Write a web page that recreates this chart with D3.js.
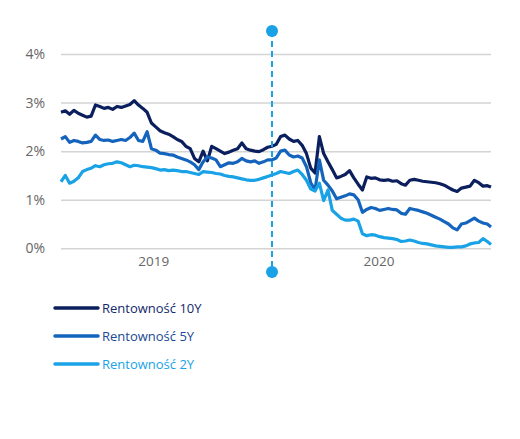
<!DOCTYPE html>
<html><head><meta charset="utf-8">
<script src="https://cdn.jsdelivr.net/npm/d3@7"></script>
<style>
html,body{margin:0;padding:0;background:#fff;}
svg{display:block;font-family:"Open Sans",sans-serif;}
</style></head>
<body><svg id="c" width="520" height="439"></svg>
<script>
const dates = ["2019-02-01","2019-02-08","2019-02-15","2019-02-22","2019-03-01","2019-03-08","2019-03-15","2019-03-22","2019-03-29","2019-04-05",
"2019-04-12","2019-04-19","2019-04-26","2019-05-03","2019-05-10","2019-05-17","2019-05-24","2019-05-31","2019-06-07","2019-06-14",
"2019-06-21","2019-06-28","2019-07-05","2019-07-12","2019-07-19","2019-07-26","2019-08-02","2019-08-09","2019-08-16","2019-08-23",
"2019-08-30","2019-09-06","2019-09-13","2019-09-20","2019-09-27","2019-10-04","2019-10-11","2019-10-18","2019-10-25","2019-11-01",
"2019-11-08","2019-11-15","2019-11-22","2019-11-29","2019-12-06","2019-12-13","2019-12-20","2019-12-27","2020-01-03","2020-01-10",
"2020-01-17","2020-01-24","2020-01-31","2020-02-07","2020-02-14","2020-02-21","2020-02-28","2020-03-06","2020-03-13","2020-03-20",
"2020-03-27","2020-04-03","2020-04-10","2020-04-17","2020-04-24","2020-05-01","2020-05-08","2020-05-15","2020-05-22","2020-05-29",
"2020-06-05","2020-06-12","2020-06-19","2020-06-26","2020-07-03","2020-07-10","2020-07-17","2020-07-24","2020-07-31","2020-08-07",
"2020-08-14","2020-08-21","2020-08-28","2020-09-04","2020-09-11","2020-09-18","2020-09-25","2020-10-02","2020-10-09","2020-10-16",
"2020-10-23","2020-10-30","2020-11-06","2020-11-13","2020-11-20","2020-11-27","2020-12-04","2020-12-11","2020-12-18","2020-12-25","2020-12-31"];

const y10 = [2.80,2.83,2.76,2.84,2.78,2.74,2.70,2.72,2.95,2.92,
2.88,2.90,2.86,2.92,2.90,2.93,2.96,3.04,2.95,2.88,
2.80,2.58,2.50,2.42,2.38,2.35,2.30,2.24,2.20,2.10,
2.05,1.85,1.78,2.00,1.80,2.10,2.05,2.00,1.95,1.98,
2.02,2.05,2.17,2.05,2.02,2.00,1.99,2.03,2.08,2.10,
2.14,2.30,2.33,2.25,2.20,2.22,2.12,1.95,1.65,1.55,
2.30,1.95,1.78,1.62,1.45,1.48,1.52,1.60,1.45,1.32,
1.20,1.47,1.44,1.45,1.41,1.40,1.41,1.38,1.39,1.33,
1.30,1.40,1.42,1.40,1.38,1.37,1.36,1.35,1.33,1.30,
1.25,1.20,1.17,1.24,1.26,1.28,1.40,1.35,1.28,1.29,1.26];

const y5 = [2.25,2.30,2.18,2.22,2.20,2.17,2.18,2.20,2.33,2.24,
2.22,2.23,2.20,2.22,2.24,2.22,2.28,2.37,2.22,2.20,
2.40,2.05,2.02,1.96,1.95,1.93,1.92,1.88,1.85,1.82,
1.78,1.72,1.62,1.78,1.88,1.86,1.82,1.68,1.72,1.76,
1.75,1.78,1.85,1.80,1.78,1.80,1.75,1.78,1.82,1.82,
1.86,2.00,2.02,1.92,1.88,1.90,1.86,1.68,1.35,1.20,
1.82,1.40,1.30,1.18,1.02,1.05,1.08,1.12,1.10,1.00,
0.74,0.80,0.84,0.82,0.78,0.80,0.82,0.80,0.79,0.72,
0.70,0.82,0.80,0.78,0.75,0.72,0.68,0.64,0.60,0.55,
0.50,0.42,0.38,0.50,0.52,0.57,0.62,0.56,0.52,0.50,0.44];

const y2 = [1.37,1.50,1.34,1.38,1.45,1.58,1.62,1.65,1.70,1.68,
1.72,1.74,1.75,1.78,1.76,1.72,1.68,1.71,1.70,1.68,
1.67,1.66,1.64,1.61,1.62,1.60,1.61,1.60,1.58,1.58,
1.56,1.54,1.52,1.58,1.57,1.56,1.54,1.53,1.50,1.48,
1.47,1.45,1.43,1.41,1.40,1.40,1.42,1.45,1.48,1.51,
1.54,1.58,1.56,1.54,1.58,1.61,1.52,1.40,1.22,1.18,
1.34,0.98,1.20,0.78,0.70,0.62,0.58,0.58,0.60,0.56,
0.30,0.26,0.28,0.27,0.24,0.22,0.21,0.20,0.18,0.14,
0.15,0.17,0.15,0.12,0.10,0.09,0.07,0.05,0.04,0.03,
0.02,0.02,0.03,0.03,0.05,0.09,0.11,0.12,0.20,0.14,0.08];

const yTicks = [0,1,2,3,4];
const xTickDates = ["2019-07-01","2020-07-01"];
const xTickLabels = ["2019","2020"];
const markerDate = "2020-01-10";
const seriesNames = ["Rentowność 10Y","Rentowność 5Y","Rentowność 2Y"];
const seriesColors = ["#0b1f5e","#1464bd","#19a2e6"];
const legendTextColors = ["#13296b","#1a4a94","#19a2e6"];
const seriesValues = [y10,y5,y2];

const parse = d3.timeParse("%Y-%m-%d");
const dd = dates.map(parse);
const svg = d3.select("#c");

const x = d3.scaleTime().domain([parse("2019-02-01"), parse("2020-12-31")]).range([61,491]);
const y = d3.scaleLinear().domain([0,4]).range([248.3,54]);

// grid
const yAxis = d3.axisLeft(y).tickValues(yTicks).tickSize(-(491-61)).tickFormat(d=>d+"%").tickPadding(16);
const gy = svg.append("g").attr("transform","translate(61,0)").call(yAxis);
gy.select(".domain").remove();
gy.selectAll(".tick line").attr("stroke","#d4d4d4").attr("stroke-width",1.5);
gy.selectAll(".tick text").attr("fill","#666").attr("font-size",14).attr("font-family","Open Sans");

const xAxis = d3.axisBottom(x).tickValues(xTickDates.map(parse)).tickFormat((d,i)=>xTickLabels[i]).tickSize(0).tickPadding(8);
const gx = svg.append("g").attr("transform","translate(0,248.3)").call(xAxis);
gx.select(".domain").remove();
gx.selectAll(".tick text").attr("fill","#666").attr("font-size",13.5).attr("font-family","Open Sans");

// lines
const line = d3.line().x((d,i)=>x(dd[i])).y(d=>y(d)).curve(d3.curveLinear);
seriesValues.forEach((vals,k)=>{
  svg.append("path").datum(vals).attr("d",line).attr("fill","none")
    .attr("stroke",seriesColors[k]).attr("stroke-width",3.2).attr("stroke-linejoin","round");
});

// marker
const mx = x(parse(markerDate));
svg.append("line").attr("x1",mx).attr("x2",mx).attr("y1",31).attr("y2",272)
  .attr("stroke","#19a2e6").attr("stroke-width",2).attr("stroke-dasharray","6,4");
[31,272].forEach(cy=>svg.append("circle").attr("cx",mx).attr("cy",cy).attr("r",6).attr("fill","#19a2e6"));

// legend
const lg = svg.append("g");
seriesNames.forEach((n,k)=>{
  const ly = 308 + k*28;
  lg.append("line").attr("x1",55).attr("x2",98).attr("y1",ly).attr("y2",ly)
    .attr("stroke",seriesColors[k]).attr("stroke-width",3.5).attr("stroke-linecap","round");
  lg.append("text").attr("x",102).attr("y",ly).attr("dy","0.35em").attr("font-size",13)
    .attr("fill",legendTextColors[k]).text(n);
});
</script></body></html>
